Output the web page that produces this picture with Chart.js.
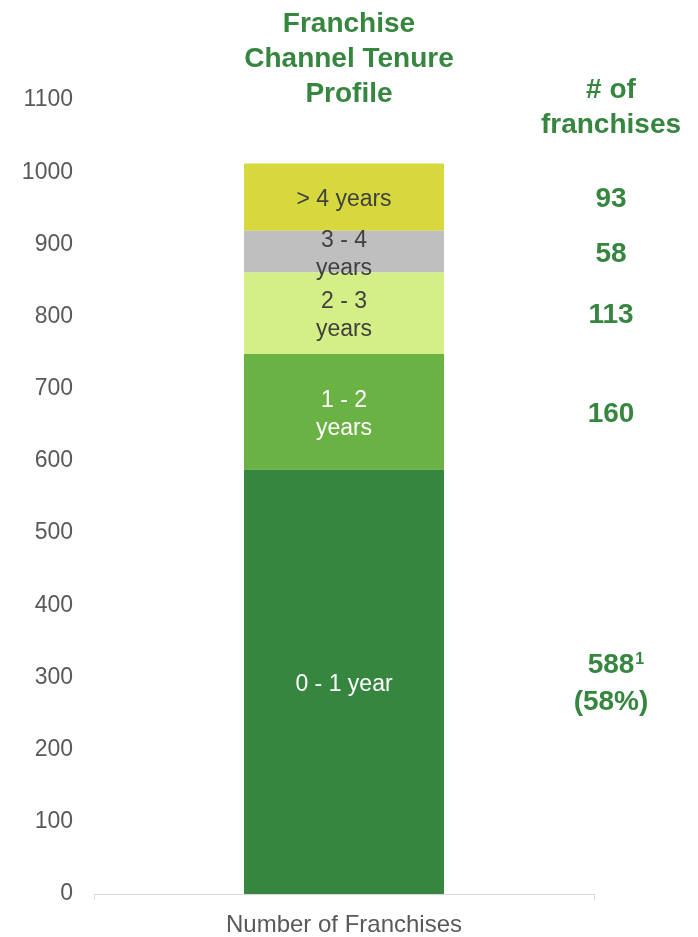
<!DOCTYPE html>
<html>
<head>
<meta charset="utf-8">
<script src="https://cdn.jsdelivr.net/npm/chart.js@4.4.1/dist/chart.umd.min.js"></script>
<style>
  body { margin: 0; background: #fff; }
  #wrap { width: 698px; height: 937px; }
</style>
</head>
<body>
<div id="wrap"><canvas id="grafico" width="698" height="937"></canvas></div>
<script>
// data
const categorias = ['Number of Franchises'];
const tramos = ['0 - 1 year', '1 - 2 years', '2 - 3 years', '3 - 4 years', '> 4 years'];
const tramosTexto = [['0 - 1 year'], ['1 - 2', 'years'], ['2 - 3', 'years'], ['3 - 4', 'years'], ['> 4 years']];
const franquicias = [588, 160, 113, 58, 93];
const franquiciasTexto = [['588', '(58%)'], ['160'], ['113'], ['58'], ['93']];
const maxEje = 1100;
const pasoEje = 100;

const colores = ['#368640', '#6bb245', '#d5ef87', '#bfbfbf', '#d6d83d'];
const coloresTexto = ['#ffffff', '#ffffff', '#404040', '#404040', '#404040'];
const verde = '#368640';
const fuente = 'Liberation Sans, Arimo, Arial, Helvetica';

Chart.defaults.font.family = fuente;

const datasets = tramos.map((t, i) => ({
  label: t,
  data: [franquicias[i]],
  backgroundColor: colores[i],
  borderWidth: 0,
  barPercentage: 0.4,
  categoryPercentage: 1.0,
}));

const textos = {
  id: 'textos',
  afterDatasetsDraw(chart) {
    const ctx = chart.ctx;
    const area = chart.chartArea;
    ctx.save();
    ctx.textAlign = 'center';
    ctx.textBaseline = 'alphabetic';

    // etiquetas dentro de la barra
    ctx.font = '23px ' + fuente;
    tramos.forEach((t, i) => {
      const bar = chart.getDatasetMeta(i).data[0];
      const mid = (bar.y + bar.base) / 2;
      const lineas = tramosTexto[i];
      ctx.fillStyle = coloresTexto[i];
      lineas.forEach((l, j) => {
        ctx.fillText(l, bar.x, mid + 9 + (j - (lineas.length - 1) / 2) * 28);
      });
    });

    // titulo
    ctx.fillStyle = verde;
    ctx.font = 'bold 28px ' + fuente;
    const tx = chart.width / 2;
    ['Franchise', 'Channel Tenure', 'Profile'].forEach((l, j) => {
      ctx.fillText(l, tx, 32 + j * 35);
    });

    // columna derecha
    const rx = area.right + 17;
    ctx.fillText('# of', rx, area.top - 2);
    ctx.fillText('franchises', rx, area.top + 33);
    tramos.forEach((t, i) => {
      const bar = chart.getDatasetMeta(i).data[0];
      const mid = (bar.y + bar.base) / 2;
      const lineas = franquiciasTexto[i];
      lineas.forEach((l, j) => {
        const y = mid + 10 + (j - (lineas.length - 1) / 2) * 37;
        ctx.fillText(l, rx, y);
        if (i === 0 && j === 0) {
          const w = ctx.measureText(l).width;
          ctx.font = 'bold 16px ' + fuente;
          ctx.textAlign = 'left';
          ctx.fillText('1', rx + w / 2 + 1, y - 9);
          ctx.font = 'bold 28px ' + fuente;
          ctx.textAlign = 'center';
        }
      });
    });
    ctx.restore();
  }
};

const config = {
  type: 'bar',
  data: { labels: categorias, datasets: datasets },
  options: {
    responsive: false,
    animation: false,
    layout: { padding: { top: 100, right: 104, bottom: 0, left: 20 } },
    plugins: {
      legend: { display: false },
      title: { display: false },
      tooltip: { enabled: false },
    },
    scales: {
      x: {
        stacked: true,
        grid: { display: true, drawOnChartArea: false, drawTicks: true, tickLength: 6, color: '#d9d9d9', offset: true },
        border: { display: true, color: '#d9d9d9', width: 1 },
        ticks: { color: '#595959', font: { family: fuente, size: 24 }, padding: 11 },
        afterFit(scale) { scale.height = 43; },
      },
      y: {
        stacked: true,
        min: 0,
        max: maxEje,
        grid: { display: false, drawTicks: false },
        border: { display: false },
        ticks: {
          stepSize: pasoEje,
          color: '#595959',
          font: { family: fuente, size: 23 },
          padding: 21,
          callback: (v) => String(v),
        },
        afterFit(scale) { scale.width = 74; },
      },
    },
  },
  plugins: [textos],
};

new Chart(document.getElementById('grafico'), config);
</script>
</body>
</html>
